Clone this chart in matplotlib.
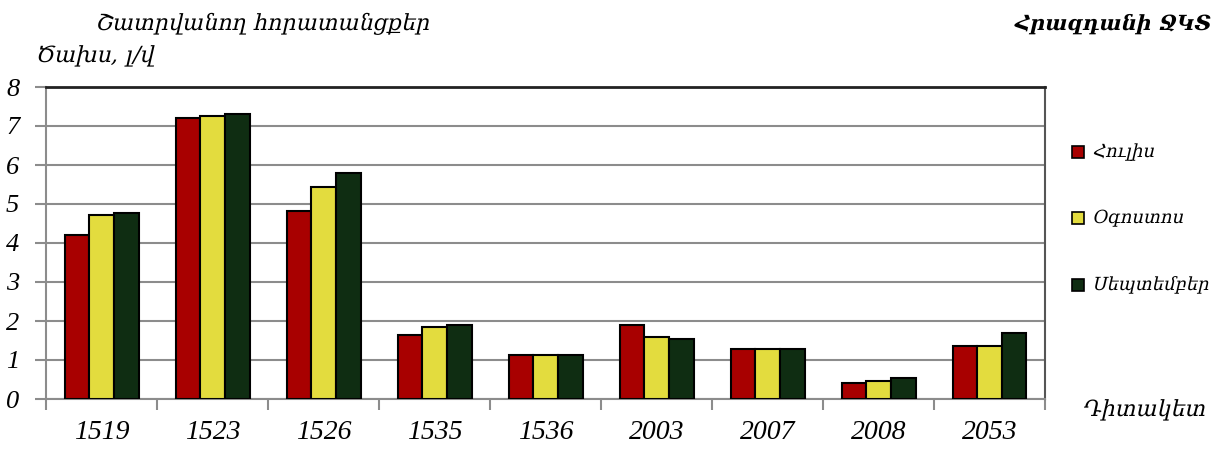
import matplotlib
matplotlib.use("Agg")
import matplotlib.pyplot as plt
import numpy as np
from matplotlib.patheffects import AbstractPathEffect
from matplotlib.transforms import Affine2D

categories = ["1519", "1523", "1526", "1535", "1536", "2003", "2007", "2008", "2053"]
july = [4.20, 7.20, 4.82, 1.63, 1.12, 1.89, 1.27, 0.41, 1.37]
august = [4.72, 7.25, 5.44, 1.84, 1.12, 1.58, 1.27, 0.46, 1.37]
september = [4.77, 7.30, 5.80, 1.90, 1.12, 1.53, 1.27, 0.55, 1.68]
series_names = ["Հուլիս", "Օգոստոս", "Սեպտեմբեր"]
colors = ["#A80000", "#E3DC3E", "#0F2D12"]
yticks = [0, 1, 2, 3, 4, 5, 6, 7, 8]

FAM = ["DejaVu Serif", "DejaVu Sans"]
plt.rcParams['font.family'] = FAM
NUMFAM = ["Liberation Serif", "DejaVu Serif"]


class Slant(AbstractPathEffect):
    """Slant glyph outlines (synthetic italic for scripts lacking an italic face)."""
    def __init__(self, deg=13):
        super().__init__()
        self.deg = deg

    def draw_path(self, renderer, gc, tpath, affine, rgbFace=None):
        renderer.draw_path(gc, tpath, Affine2D().skew_deg(self.deg, 0) + affine, rgbFace)


SL = [Slant(13)]

fig = plt.figure(figsize=(12.23, 4.51), dpi=100)
ax = fig.add_axes([46/1223, 1 - 399/451, (1045-46)/1223, (399-87)/451])

n = len(categories)
x = np.arange(n)
w = 1 / 4.5
for i, (vals, c, name) in enumerate(zip([july, august, september], colors, series_names)):
    ax.bar(x + (i - 1) * w, vals, width=w, color=c, edgecolor="black", linewidth=1.5, label=name, zorder=3)

ax.set_xlim(-0.5, n - 0.5)
ax.set_ylim(0, 8)
ax.set_yticks(yticks)
ax.set_yticklabels([str(v) for v in yticks], fontsize=19, family=NUMFAM, fontstyle="italic")
ax.yaxis.grid(True, color="#8c8c8c", linewidth=1.5, zorder=0)
ax.set_axisbelow(True)

ax.set_xticks(np.arange(-0.5, n, 1))
ax.set_xticklabels([])
ax.set_xticks(x, minor=True)
ax.set_xticklabels(categories, minor=True, fontsize=20, family=NUMFAM, fontstyle="italic")
ax.tick_params(axis="x", which="minor", length=0, pad=15)
ax.tick_params(axis="x", which="major", length=8, width=1.5, color="#8c8c8c", direction="out")
ax.tick_params(axis="y", length=8, width=1.5, color="#8c8c8c", direction="out", pad=16)
for lbl in ax.get_yticklabels():
    lbl.set_horizontalalignment("center")

for s in ["left", "bottom"]:
    ax.spines[s].set_color("#8c8c8c")
    ax.spines[s].set_linewidth(1.5)
ax.spines["top"].set_color("#222222")
ax.spines["top"].set_linewidth(2)
ax.spines["right"].set_color("#555555")
ax.spines["right"].set_linewidth(1.5)

fig.text(95/1223, 1 - 24/451, "Շատրվանող հորատանցքեր", fontsize=16, ha="left", va="center", path_effects=SL)
fig.text(35/1223, 1 - 56/451, "Ծախս, լ/վ", fontsize=16, ha="left", va="center", path_effects=SL)
fig.text(1210/1223, 1 - 24/451, "Հրազդանի ՋԿՏ", fontsize=15, fontweight="bold", ha="right", va="center", path_effects=SL)
fig.text(1205/1223, 1 - 410/451, "Դիտակետ", fontsize=16, ha="right", va="center", path_effects=SL)

ys = [152, 218, 285]
for name, c, yy in zip(series_names, colors, ys):
    fig.patches.append(plt.Rectangle((1072/1223, 1 - (yy + 6)/451), 12/1223, 12/451,
                                     transform=fig.transFigure, facecolor=c, edgecolor="black", linewidth=1.2))
    fig.text(1092/1223, 1 - yy/451, name, fontsize=13, ha="left", va="center", path_effects=SL)

fig.savefig("out.png", dpi=100)
